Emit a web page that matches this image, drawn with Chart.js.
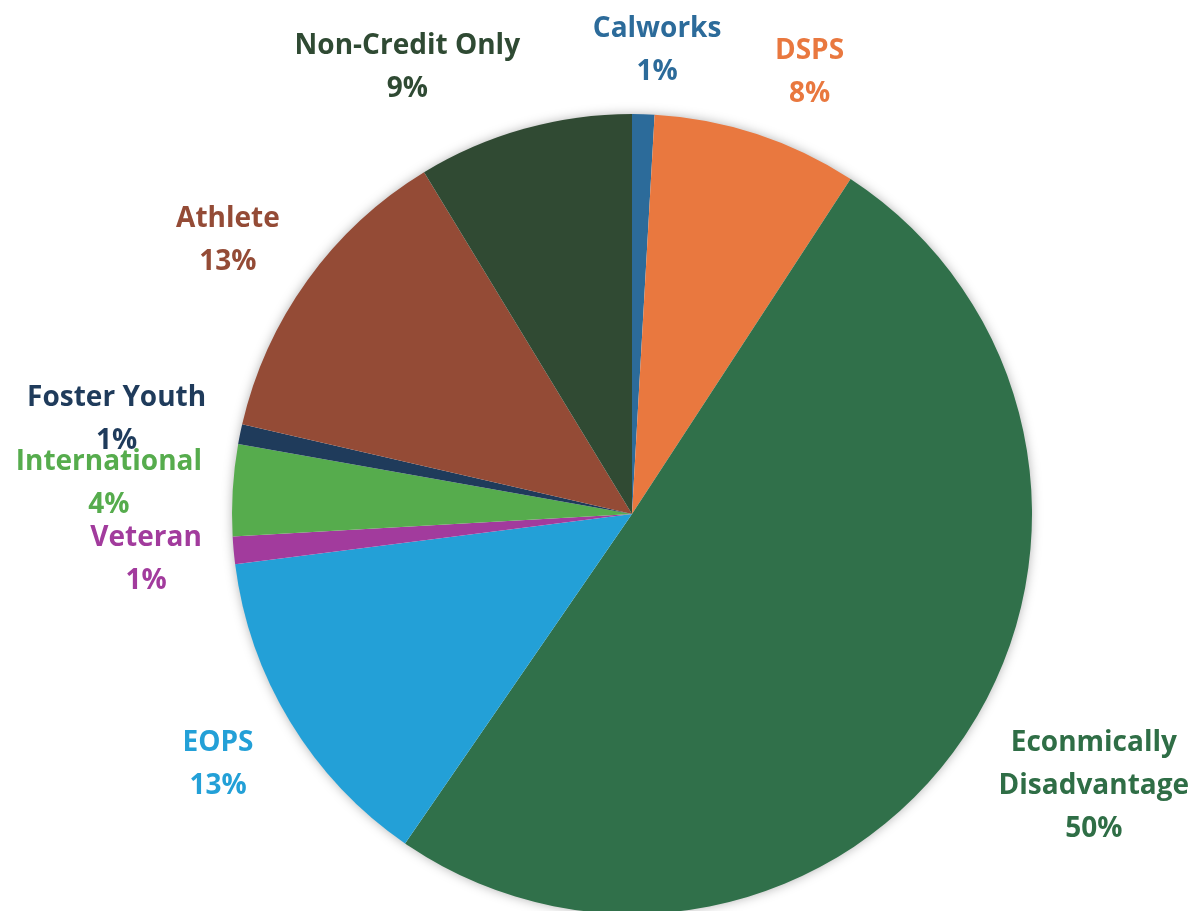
<!DOCTYPE html>
<html>
<head>
<meta charset="utf-8">
<script src="https://cdn.jsdelivr.net/npm/chart.js@4.4.1/dist/chart.umd.min.js"></script>
<style>
    html, body { margin: 0; padding: 0; background: #ffffff; overflow: hidden; }
    #wrap { position: relative; width: 1193px; height: 930px; }
</style>
</head>
<body>
<div id="wrap"><canvas id="pieChart"></canvas></div>
<script>
// Slices, clockwise from 12 o'clock
const categories = ['Calworks', 'DSPS', 'Econmically Disadvantage', 'EOPS', 'Veteran', 'International', 'Foster Youth', 'Athlete', 'Non-Credit Only'];
const shares = [0.9, 8.3, 50.4, 13.4, 1.1, 3.7, 0.8, 12.7, 8.7];
const sliceColors = ['#2c6b9a', '#e9783f', '#30704a', '#23a0d7', '#a23b9d', '#56ac4d', '#1f3b5b', '#944b36', '#304a33'];
const textColors = ['#2c6b9a', '#e9783f', '#2f6e46', '#23a0d7', '#a23b9d', '#56ac4d', '#1f3b5b', '#944b36', '#2f4a33'];
const labelLines = [['Calworks'], ['DSPS'], ['Econmically', 'Disadvantage'], ['EOPS'], ['Veteran'], ['International'], ['Foster Youth'], ['Athlete'], ['Non-Credit Only']];

// where each label block sits: angle (deg clockwise from top) and distance as a multiple of the radius
const labelPlace = [
    { a: 3.1, d: 1.16 }, { a: 21.9, d: 1.19 }, { a: 120.5, d: 1.34 }, { a: 238.8, d: 1.21 },
    { a: 264.7, d: 1.22 }, { a: 273.3, d: 1.31 }, { a: 280.4, d: 1.31 }, { a: 304.1, d: 1.22 }, { a: 333.3, d: 1.25 }
];

const shadowPlugin = {
    id: 'pieShadow',
    beforeDatasetsDraw(chart) {
        const arc = chart.getDatasetMeta(0).data[0];
        if (!arc) return;
        const ctx = chart.ctx;
        ctx.save();
        ctx.shadowColor = 'rgba(0,0,0,0.35)';
        ctx.shadowBlur = 12;
        ctx.fillStyle = '#ffffff';
        ctx.beginPath();
        ctx.arc(arc.x, arc.y, arc.outerRadius - 1, 0, Math.PI * 2);
        ctx.fill();
        ctx.restore();
    }
};

const labelPlugin = {
    id: 'outsideLabels',
    afterDatasetsDraw(chart) {
        const arc = chart.getDatasetMeta(0).data[0];
        const ctx = chart.ctx;
        const total = shares.reduce((s, v) => s + v, 0);
        const lineH = 43;
        ctx.save();
        ctx.font = 'bold 28px "Open Sans"';
        ctx.textAlign = 'center';
        ctx.textBaseline = 'middle';
        categories.forEach((cat, i) => {
            const p = labelPlace[i];
            const rad = p.a * Math.PI / 180;
            const cx = arc.x + Math.sin(rad) * arc.outerRadius * p.d;
            const cy = arc.y - Math.cos(rad) * arc.outerRadius * p.d;
            const lines = labelLines[i].concat([Math.round(shares[i] / total * 100) + '%']);
            const top = cy - (lines.length - 1) * lineH / 2;
            ctx.fillStyle = textColors[i];
            lines.forEach((t, k) => ctx.fillText(t, cx, top + k * lineH));
        });
        ctx.restore();
    }
};

new Chart(document.getElementById('pieChart'), {
    type: 'pie',
    data: {
        labels: categories,
        datasets: [{
            data: shares,
            backgroundColor: sliceColors,
            borderWidth: 0
        }]
    },
    options: {
        responsive: true,
        maintainAspectRatio: false,
        animation: false,
        layout: { padding: { left: 232, right: 161, top: 114, bottom: 16 } },
        plugins: {
            legend: { display: false },
            tooltip: { enabled: false }
        }
    },
    plugins: [shadowPlugin, labelPlugin]
});
</script>
</body>
</html>
